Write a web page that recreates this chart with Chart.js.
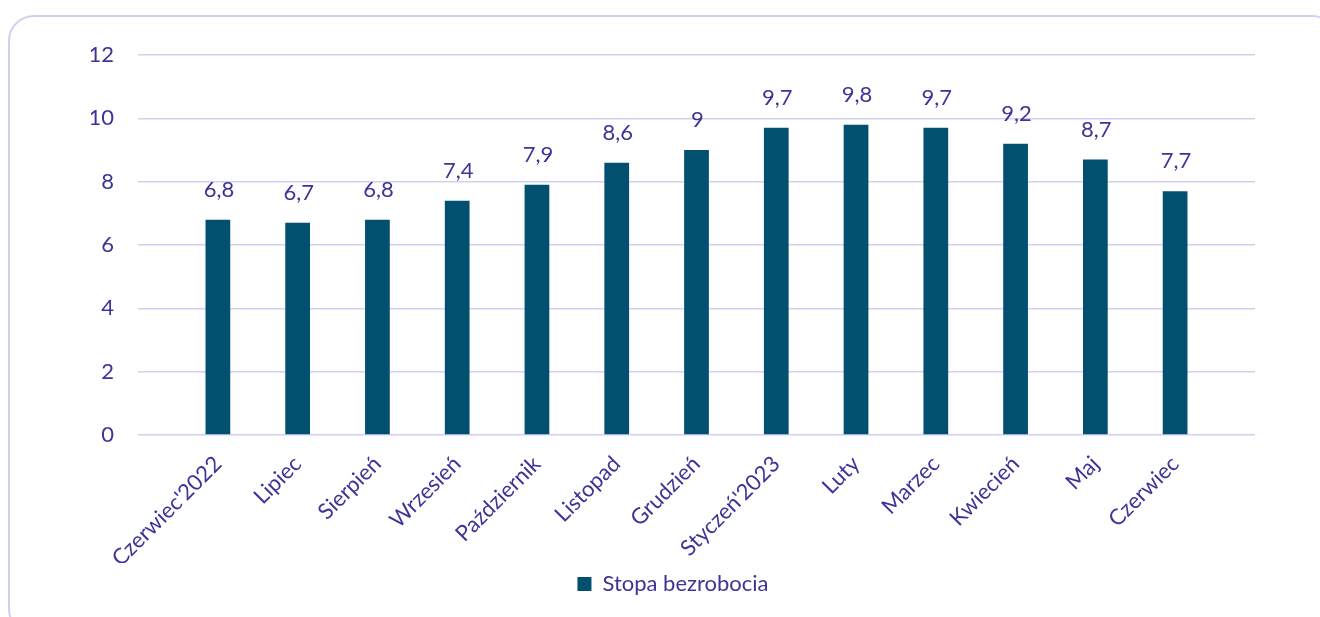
<!DOCTYPE html>
<html lang="pl">
<head>
<meta charset="utf-8">
<title>Stopa bezrobocia</title>
<script src="https://cdn.jsdelivr.net/npm/chart.js@4.4.0/dist/chart.umd.min.js"></script>
<style>
  html, body { margin: 0; padding: 0; background: #ffffff; }
  body { width: 1320px; height: 617px; position: relative; overflow: hidden; }
  .frame {
    position: absolute;
    left: 8px; top: 15px;
    width: 1330px; height: 620px;
    border: 2px solid #d3cff2;
    border-radius: 26px;
    box-sizing: border-box;
  }
  #wrap { position: absolute; left: 0; top: 0; width: 1320px; height: 617px; }
</style>
</head>
<body>
<div class="frame"></div>
<div id="wrap"><canvas id="unemploymentChart"></canvas></div>
<script>
// Dane wykresu
const categories = [
  "Czerwiec'2022", 'Lipiec', 'Sierpień', 'Wrzesień', 'Październik', 'Listopad',
  'Grudzień', "Styczeń'2023", 'Luty', 'Marzec', 'Kwiecień', 'Maj', 'Czerwiec'
];
const unemploymentRate = [6.8, 6.7, 6.8, 7.4, 7.9, 8.6, 9, 9.7, 9.8, 9.7, 9.2, 8.7, 7.7];
const seriesLabel = 'Stopa bezrobocia';
const yTicks = [0, 2, 4, 6, 8, 10, 12];

const textColor = '#3b3499';
const gridColor = '#d3cff2';
const barColor = '#01506f';
const fontFamily = "Lato, 'Open Sans', sans-serif";
const fontSize = 22;

// Formatowanie z przecinkiem dziesiętnym
const formatPl = v => String(v).replace('.', ',');

// Etykiety wartości nad słupkami
const valueLabels = {
  id: 'valueLabels',
  afterDatasetsDraw(chart) {
    const ctx = chart.ctx;
    const meta = chart.getDatasetMeta(0);
    ctx.save();
    ctx.fillStyle = textColor;
    ctx.font = fontSize + 'px ' + fontFamily;
    ctx.textAlign = 'center';
    ctx.textBaseline = 'alphabetic';
    meta.data.forEach((bar, i) => {
      ctx.fillText(formatPl(unemploymentRate[i]), bar.x + 1, bar.y - 23);
    });
    ctx.restore();
  }
};

const ctx = document.getElementById('unemploymentChart');
new Chart(ctx, {
  type: 'bar',
  data: {
    labels: categories,
    datasets: [{
      label: seriesLabel,
      data: unemploymentRate,
      backgroundColor: barColor,
      borderWidth: 0,
      categoryPercentage: 1,
      barPercentage: 0.31,
      yAxisID: 'y'
    }]
  },
  options: {
    responsive: true,
    maintainAspectRatio: false,
    animation: false,
    layout: { padding: { left: 91, right: 65, top: 55, bottom: 12 } },
    plugins: {
      legend: {
        position: 'bottom',
        labels: {
          color: textColor,
          font: { family: fontFamily, size: fontSize },
          boxWidth: 14,
          boxHeight: 14,
          padding: 10
        }
      },
      tooltip: { enabled: false }
    },
    scales: {
      x: {
        grid: { display: false },
        border: { display: false },
        ticks: {
          color: textColor,
          font: { family: fontFamily, size: fontSize },
          minRotation: 45,
          maxRotation: 45,
          padding: 8
        },
        afterFit(scale) { scale.height = 128; }
      },
      y: {
        position: 'left',
        min: 0,
        max: 12,
        afterBuildTicks(scale) { scale.ticks = yTicks.map(v => ({ value: v })); },
        grid: { color: gridColor, lineWidth: 1.6, drawTicks: true, tickLength: 40, tickColor: gridColor },
        border: { display: false },
        ticks: {
          color: textColor,
          font: { family: fontFamily, size: fontSize },
          padding: 24
        },
        afterFit(scale) { scale.width = 87; }
      },
      y2: {
        position: 'right',
        min: 0,
        max: 12,
        afterBuildTicks(scale) { scale.ticks = yTicks.map(v => ({ value: v })); },
        grid: { color: gridColor, lineWidth: 1.6, drawOnChartArea: false, drawTicks: true, tickLength: 40, tickColor: gridColor },
        border: { display: false },
        ticks: { display: false },
        afterFit(scale) { scale.width = 40; }
      }
    }
  },
  plugins: [valueLabels]
});
</script>
</body>
</html>
